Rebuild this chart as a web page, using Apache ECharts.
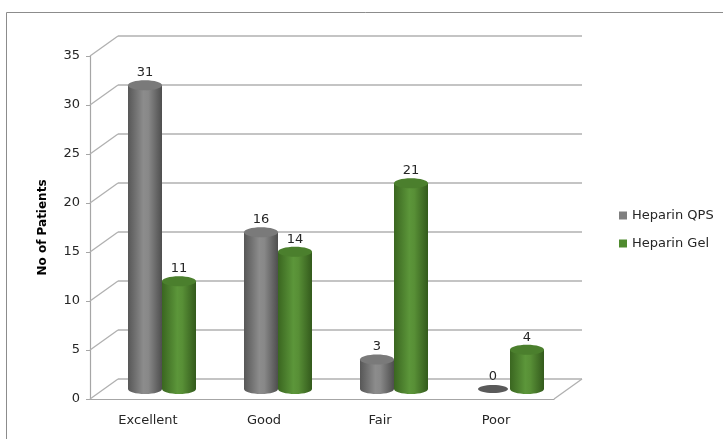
<!DOCTYPE html>
<html>
<head>
<meta charset="utf-8">
<script src="https://cdn.jsdelivr.net/npm/echarts@6/dist/echarts.min.js"></script>
<style>
  html, body { margin: 0; padding: 0; background: #fff; }
  #patientChart { width: 723px; height: 439px; }
</style>
</head>
<body>
<div id="patientChart"></div>
<script>
// chart data
var categories = ['Excellent', 'Good', 'Fair', 'Poor']
var heparinQPS = [31, 16, 3, 0]
var heparinGel = [11, 14, 21, 4]
var yTicks = [0, 5, 10, 15, 20, 25, 30, 35]

var FONT = 'DejaVu Sans'
var DEPTH_X = 28   // 3d depth offset, front -> back wall
var DEPTH_Y = -20
var CYL_W = 34
var CAP_RY = 5

var chart = echarts.init(document.getElementById('patientChart'))

// cylinder drawer, side = -1 left bar / +1 right bar
function cylinder (side, body, cap) {
  return function (params, api) {
    var cat = api.value(0)
    var v = api.value(1)
    var base = api.coord([cat, 0])
    var top = api.coord([cat, v])
    var cx = base[0] + side * CYL_W / 2
    var grad = new echarts.graphic.LinearGradient(0, 0, 1, 0, body)
    var children = [
      { type: 'ellipse', shape: { cx: cx, cy: base[1], rx: CYL_W / 2, ry: CAP_RY }, style: { fill: grad } }
    ]
    if (v > 0) {
      children.push({ type: 'rect', shape: { x: cx - CYL_W / 2, y: top[1], width: CYL_W, height: base[1] - top[1] }, style: { fill: grad } })
      children.push({ type: 'ellipse', shape: { cx: cx, cy: top[1], rx: CYL_W / 2, ry: CAP_RY }, style: { fill: cap } })
    } else {
      children[0].shape.rx = CYL_W / 2 - 2
      children[0].shape.ry = CAP_RY - 1
      children[0].style.fill = '#5a5a5a'
    }
    children.push({
      type: 'text',
      style: { text: String(v), x: cx, y: top[1] - CAP_RY - 1, align: 'center', verticalAlign: 'bottom', font: '13px ' + FONT, fill: '#262626' }
    })
    return { type: 'group', children: children }
  }
}

var option = {
  animation: false,
  textStyle: { fontFamily: FONT },
  graphic: [
    { type: 'rect', shape: { x: 6.5, y: 12.5, width: 800, height: 500 }, style: { fill: 'none', stroke: '#8c8c8c', lineWidth: 1 }, silent: true }
  ],
  legend: {
    orient: 'vertical',
    left: 614,
    top: 204,
    itemWidth: 8,
    itemHeight: 8,
    itemGap: 15,
    icon: 'rect',
    textStyle: { fontFamily: FONT, fontSize: 13, color: '#262626' },
    data: ['Heparin QPS', 'Heparin Gel']
  },
  grid: [
    { left: 90, right: 169, top: 56, bottom: 40 },   // front plane (axis labels)
    { left: 104, right: 155, top: 46, bottom: 50 },  // middle plane (cylinders)
    { left: 118, right: 141, top: 36, bottom: 60 }   // back wall
  ],
  xAxis: [
    {
      gridIndex: 0, type: 'category', data: categories,
      axisLine: { lineStyle: { color: '#a6a6a6', width: 1.2 } },
      axisTick: { show: false },
      axisLabel: { fontFamily: FONT, fontSize: 13, color: '#262626', margin: 15 }
    },
    { gridIndex: 1, type: 'category', data: categories, show: false },
    { gridIndex: 2, type: 'category', data: categories, show: false }
  ],
  yAxis: [
    {
      gridIndex: 0, type: 'value', min: 0, max: 35, interval: 5,
      name: 'No of Patients', nameLocation: 'middle', nameGap: 41,
      nameTextStyle: { fontFamily: FONT, fontSize: 12, fontWeight: 'bold', color: '#000' },
      axisLine: { show: true, lineStyle: { color: '#a6a6a6', width: 1.2 } },
      axisTick: { show: true, length: 4, lineStyle: { color: '#a6a6a6' } },
      axisLabel: { fontFamily: FONT, fontSize: 13, color: '#262626', margin: 10 },
      splitLine: { show: false }
    },
    { gridIndex: 1, type: 'value', min: 0, max: 35, interval: 5, show: false },
    {
      gridIndex: 2, type: 'value', min: 0, max: 35, interval: 5,
      axisLine: { show: false }, axisTick: { show: false }, axisLabel: { show: false },
      splitLine: { show: true, lineStyle: { color: '#b0b0b0', width: 1.5 } }
    }
  ],
  series: [
    {
      // diagonal edges between the front axis and the back wall
      type: 'custom',
      xAxisIndex: 0, yAxisIndex: 0,
      silent: true,
      data: yTicks.map(function (t) { return [0, t] }),
      renderItem: function (params, api) {
        var band = api.size([1, 0])[0]
        var p = api.coord([0, api.value(1)])
        var x = p[0] - band / 2
        var lines = [
          { type: 'line', shape: { x1: x, y1: p[1], x2: x + DEPTH_X, y2: p[1] + DEPTH_Y }, style: { stroke: '#b0b0b0', lineWidth: 1.3 } }
        ]
        if (api.value(1) === 0) {
          var r = api.coord([categories.length - 1, 0])[0] + band / 2
          lines.push({ type: 'line', shape: { x1: r, y1: p[1], x2: r + DEPTH_X, y2: p[1] + DEPTH_Y }, style: { stroke: '#b0b0b0', lineWidth: 1.3 } })
        }
        return { type: 'group', children: lines }
      }
    },
    {
      name: 'Heparin QPS',
      type: 'custom',
      xAxisIndex: 1, yAxisIndex: 1,
      itemStyle: { color: '#7f7f7f' },
      data: heparinQPS.map(function (v, i) { return [i, v] }),
      renderItem: cylinder(-1, [
        { offset: 0, color: '#575757' },
        { offset: 0.45, color: '#8c8c8c' },
        { offset: 0.6, color: '#888888' },
        { offset: 1, color: '#4e4e4e' }
      ], '#7a7a7a')
    },
    {
      name: 'Heparin Gel',
      type: 'custom',
      xAxisIndex: 1, yAxisIndex: 1,
      itemStyle: { color: '#4f8a2e' },
      data: heparinGel.map(function (v, i) { return [i, v] }),
      renderItem: cylinder(1, [
        { offset: 0, color: '#3a6620' },
        { offset: 0.45, color: '#5c963a' },
        { offset: 0.6, color: '#588f36' },
        { offset: 1, color: '#335a1c' }
      ], '#4b7f2d')
    }
  ]
}

chart.setOption(option)
</script>
</body>
</html>
